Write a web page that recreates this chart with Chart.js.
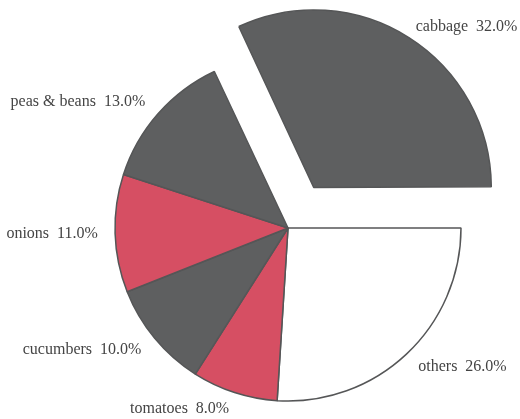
<!DOCTYPE html>
<html>
<head>
<meta charset="utf-8">
<script src="https://cdn.jsdelivr.net/npm/chart.js@4"></script>
<style>
    html, body { margin : 0; padding : 0; background : #fff; }
    #wrap { width : 520px; height : 419px; }
</style>
</head>
<body>
<div id="wrap"><canvas id="veg-pie"></canvas></div>
<script>
// slices go clockwise from 3 o'clock
const categories = ["others", "tomatoes", "cucumbers", "onions", "peas & beans", "cabbage"]
const shares = [26, 8, 10, 11, 13, 32]
const exploded = [0, 0, 0, 0, 0, 1]

const GRAY = "#5e5f60"
const RED = "#d64f63"
const sliceColors = ["#ffffff", RED, GRAY, RED, GRAY, GRAY]

const RADIUS = 173
const EXPLODE = 48      // pixels the cabbage wedge is pulled out
const LABEL_DIST = 1.1

// text beside each wedge, left or right aligned by side
const outsideLabels = {
    id : "outsideLabels",
    afterDatasetsDraw(chart) {
        const ctx = chart.ctx
        const arcs = chart.getDatasetMeta(0).data
        ctx.save()
        ctx.font = "16px 'Liberation Serif', 'DejaVu Serif', serif"
        ctx.fillStyle = "#444444"
        ctx.textBaseline = "middle"
        arcs.forEach((arc, i) => {
            const mid = (arc.startAngle + arc.endAngle) / 2
            // ArcElement translates by offset / 4
            const off = (arc.options.offset || 0) / 4
            const cx = arc.x + Math.cos(mid) * off
            const cy = arc.y + Math.sin(mid) * off
            const x = cx + Math.cos(mid) * arc.outerRadius * LABEL_DIST
            const y = cy + Math.sin(mid) * arc.outerRadius * LABEL_DIST
            ctx.textAlign = Math.cos(mid) >= 0 ? "left" : "right"
            ctx.fillText(categories[i] + "  " + shares[i].toFixed(1) + "%", x, y)
        })
        ctx.restore()
    },
}

const pie = new Chart(document.getElementById("veg-pie").getContext("2d"), {
    type : "pie",
    data : {
        labels : categories,
        datasets : [{
            data : shares,
            backgroundColor : sliceColors,
            borderColor : "#555657",
            borderWidth : 1.5,
            offset : exploded.map(e => e * EXPLODE * 4),
        }],
    },
    options : {
        responsive : true,
        maintainAspectRatio : false,
        animation : false,
        rotation : 90,
        radius : RADIUS,
        layout : {
            padding : { left : 56, right : 0, top : 37, bottom : 0 },
        },
        plugins : {
            legend : { display : false },
            tooltip : { enabled : false },
        },
    },
    plugins : [outsideLabels],
})
</script>
</body>
</html>
